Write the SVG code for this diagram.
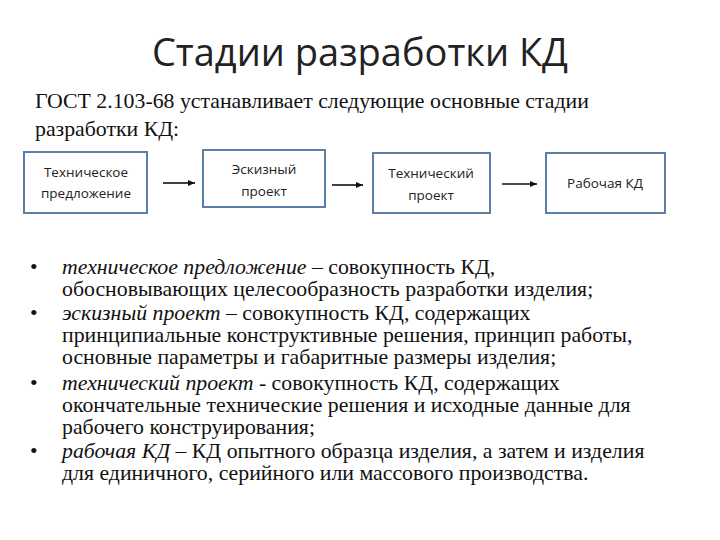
<svg xmlns="http://www.w3.org/2000/svg" width="720" height="540" viewBox="0 0 720 540">
<style>
.t{font-family:"Liberation Serif",serif;font-size:21.8px;fill:#111}
.b{font-family:"Open Sans","Liberation Sans",sans-serif;font-size:13.5px;fill:#222;text-anchor:middle}
.box{fill:#fff;stroke:#5a7fa8;stroke-width:2}
.c{stroke:#111;stroke-width:1.6;fill:none;marker-end:url(#a)}
</style>
<defs><marker id="a" markerWidth="8" markerHeight="8" refX="7" refY="4" orient="auto" markerUnits="userSpaceOnUse"><path d="M0,1 L7,4 L0,7 z" fill="#111"/></marker></defs>
<rect width="720" height="540" fill="#fff"/>
<text x="360" y="66" text-anchor="middle" font-family="Open Sans,Liberation Sans,sans-serif" font-size="38" fill="#222">Стадии разработки КД</text>
<text class="t" x="35" y="108" font-size="22">ГОСТ 2.103-68 устанавливает следующие основные стадии</text>
<text class="t" x="35" y="136" font-size="22">разработки КД:</text>
<g id="n1"><rect class="box" x="24" y="152" width="123" height="61"/><text class="b" x="86" y="177">Техническое</text><text class="b" x="86" y="198">предложение</text></g>
<g id="n2"><rect class="box" x="203" y="150" width="122" height="57"/><text class="b" x="264" y="174">Эскизный</text><text class="b" x="264" y="196">проект</text></g>
<g id="n3"><rect class="box" x="373" y="153" width="117" height="60"/><text class="b" x="431" y="178">Технический</text><text class="b" x="431" y="200">проект</text></g>
<g id="n4"><rect class="box" x="546" y="153" width="119" height="60"/><text class="b" x="605" y="188">Рабочая КД</text></g>
<g id="connectors">
<line class="c" x1="163" y1="183" x2="195" y2="183"/>
<line class="c" x1="332" y1="185" x2="363" y2="185"/>
<line class="c" x1="502" y1="184" x2="537" y2="184"/>
</g>
<g class="t">
<text x="30" y="274">•</text><text x="62" y="274"><tspan font-style="italic">техническое предложение</tspan> – совокупность КД,</text>
<text x="62" y="296">обосновывающих целесообразность разработки изделия;</text>
<text x="30" y="320">•</text><text x="62" y="320"><tspan font-style="italic">эскизный проект</tspan> – совокупность КД, содержащих</text>
<text x="62" y="342">принципиальные конструктивные решения, принцип работы,</text>
<text x="62" y="364">основные параметры и габаритные размеры изделия;</text>
<text x="30" y="390">•</text><text x="62" y="390"><tspan font-style="italic">технический проект</tspan> - совокупность КД, содержащих</text>
<text x="62" y="412">окончательные технические решения и исходные данные для</text>
<text x="62" y="434">рабочего конструирования;</text>
<text x="30" y="458">•</text><text x="62" y="458"><tspan font-style="italic">рабочая КД</tspan> – КД опытного образца изделия, а затем и изделия</text>
<text x="62" y="480">для единичного, серийного или массового производства.</text>
</g>
</svg>
